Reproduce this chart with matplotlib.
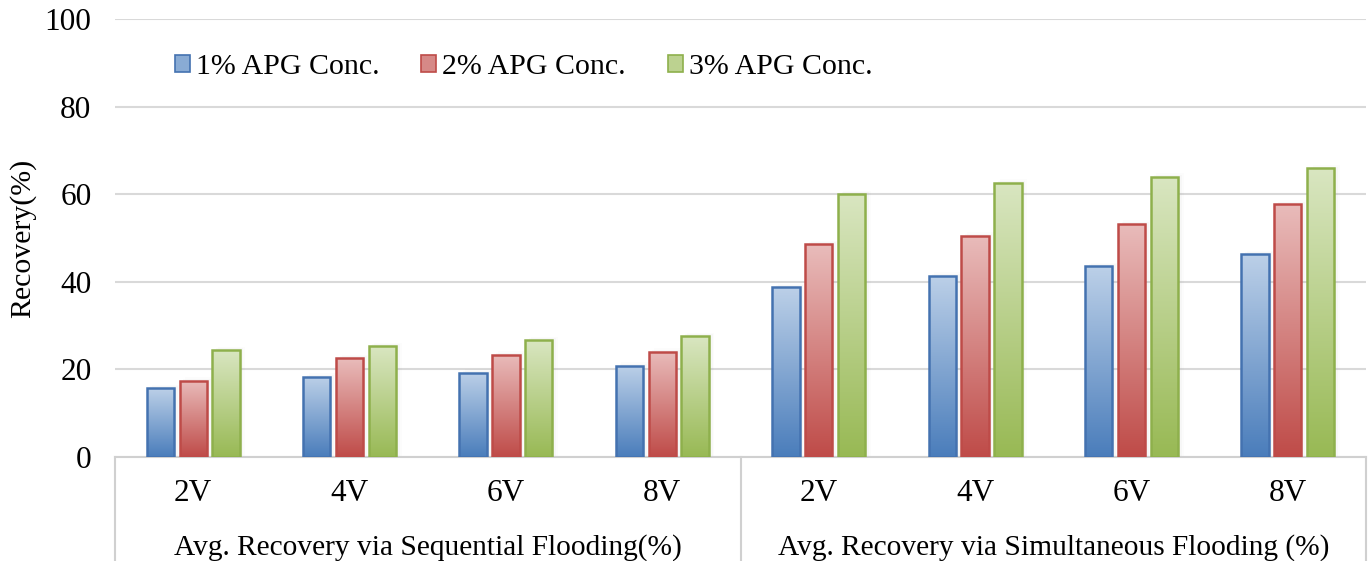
import numpy as np
import matplotlib.pyplot as plt
from matplotlib.patches import Rectangle
from matplotlib.colors import LinearSegmentedColormap
import matplotlib.transforms as mtransforms

plt.rcParams['font.family'] = ['Liberation Serif', 'DejaVu Serif']

# Recovery values (%) for each flooding volume
categories = ['2V', '4V', '6V', '8V', '2V', '4V', '6V', '8V']
groups = ['Avg. Recovery via Sequential Flooding(%)',
          'Avg. Recovery via Simultaneous Flooding (%)']
conc_1 = [15.7, 18.3, 19.2, 20.8, 38.8, 41.4, 43.6, 46.3]
conc_2 = [17.4, 22.6, 23.3, 24.0, 48.6, 50.5, 53.2, 57.8]
conc_3 = [24.4, 25.3, 26.7, 27.6, 60.0, 62.6, 64.0, 65.9]
series_names = ['1% APG Conc.', '2% APG Conc.', '3% APG Conc.']

# gradient (top colour, bottom colour, edge colour) per series
styles = [('#bcd0e8', '#4a7dbb', '#4472b0'),
          ('#e9bcbb', '#bf4b48', '#be4b48'),
          ('#d9e6c1', '#98b954', '#8eb04c')]

fig = plt.figure(figsize=(13.71, 5.61), dpi=100)
ax = fig.add_axes([115 / 1371, 1 - 457 / 561, 1251 / 1371, 438 / 561])

x = np.arange(len(categories))
width = 0.175
offsets = [-0.21, 0.0, 0.21]
grad = np.linspace(1, 0, 256).reshape(-1, 1)

handles = []
for vals, off, (top, bottom, edge), name in zip([conc_1, conc_2, conc_3], offsets, styles, series_names):
    cmap = LinearSegmentedColormap.from_list(name, [bottom, top])
    bars = ax.bar(x + off, vals, width, facecolor='none', edgecolor=edge, linewidth=1.8, zorder=4)
    for b in bars:
        bx, by = b.get_x(), b.get_y()
        bw, bh = b.get_width(), b.get_height()
        # soft shadow to the right of each bar
        for k, a in enumerate([0.06, 0.04, 0.025]):
            ax.add_patch(Rectangle((bx + 0.012 * (k + 1), by), bw, bh + 0.4 * k,
                                   facecolor='#808080', edgecolor='none', alpha=a, zorder=2))
        im = ax.imshow(grad, cmap=cmap, aspect='auto', extent=(bx, bx + bw, by, by + bh),
                       zorder=3, interpolation='bicubic')
        im.set_clip_path(b)
    handles.append(Rectangle((0, 0), 1, 1, facecolor=cmap(0.55), edgecolor=edge, linewidth=1.2))

ax.set_xlim(-0.5, len(categories) - 0.5)
ax.set_ylim(0, 100)
ax.set_yticks(np.arange(0, 101, 20))
ax.yaxis.grid(True, color='#d9d9d9', linewidth=1.5)
ax.set_axisbelow(True)
for s in ['top', 'right', 'left']:
    ax.spines[s].set_visible(False)
ax.spines['bottom'].set_color('#d0d0d0')
ax.spines['bottom'].set_linewidth(1.5)
ax.tick_params(axis='y', length=0, labelsize=22.5, pad=17)
ax.tick_params(axis='x', length=0, labelsize=22.5, pad=16)
ax.set_xticks(x)
ax.set_xticklabels(categories)
ax.set_ylabel('Recovery(%)', fontsize=21.5)
ax.yaxis.set_label_coords(-0.063, 0.5)

# group labels and separators below the category axis
trans = mtransforms.blended_transform_factory(ax.transData, ax.transAxes)
for i, g in enumerate(groups):
    ax.text(1.5 + 4 * i, -0.206, g, transform=trans, ha='center', va='center', fontsize=21.2)
for xs in [-0.5, 3.5, 7.5]:
    ax.plot([xs, xs], [0, -0.24], transform=trans, color='#d0d0d0', linewidth=1.5, clip_on=False)

ax.legend(handles, series_names, loc='center left', bbox_to_anchor=(0.048, 0.89), ncol=3,
          frameon=False, fontsize=21.5, handlelength=0.5, handleheight=0.5,
          handletextpad=0.2, columnspacing=1.4, borderaxespad=0, borderpad=0)

fig.savefig('out.png', dpi=100)
